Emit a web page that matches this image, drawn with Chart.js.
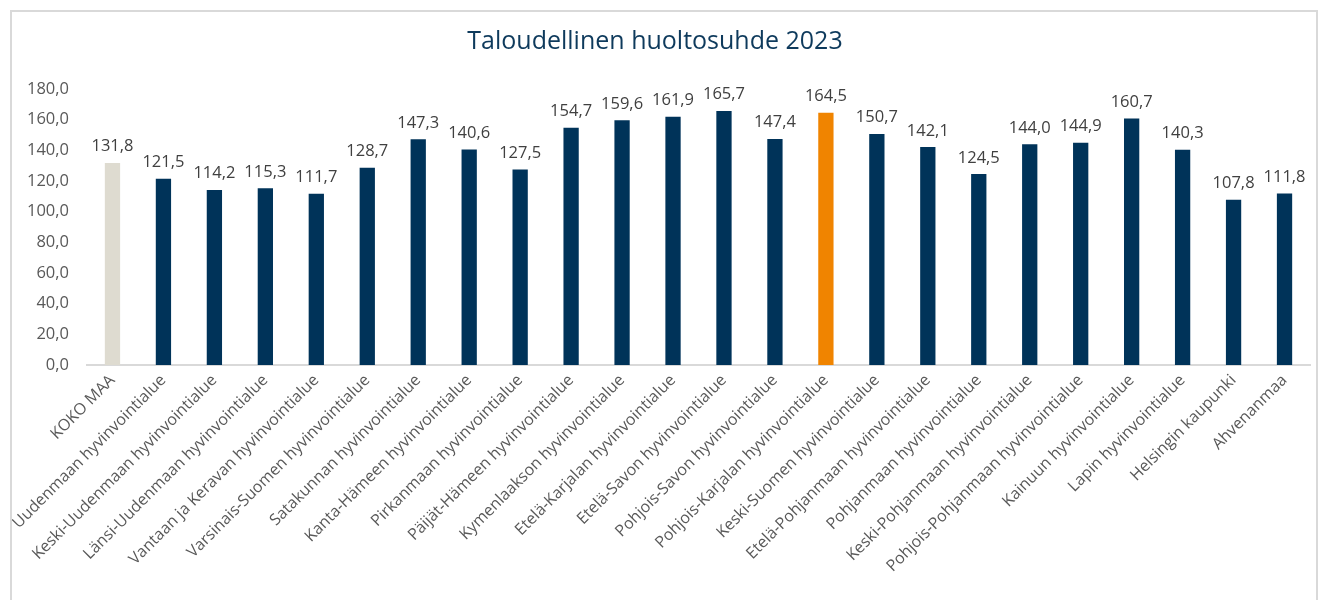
<!DOCTYPE html>
<html>
<head>
<meta charset="utf-8">
<script src="https://cdn.jsdelivr.net/npm/chart.js@4"></script>
<style>
  body { margin: 0; background: #fff; }
  #wrap { position: relative; width: 1324px; height: 600px; }
  #frame { position: absolute; left: 10px; top: 10px; width: 1304px; height: 600px; border: 2px solid #d9d9d9; pointer-events: none; }
</style>
</head>
<body>
<div id="wrap">
  <canvas id="myChart" width="1324" height="600"></canvas>
  <div id="frame"></div>
</div>
<script>
const categories = [
  "KOKO MAA",
  "Uudenmaan hyvinvointialue",
  "Keski-Uudenmaan hyvinvointialue",
  "Länsi-Uudenmaan hyvinvointialue",
  "Vantaan ja Keravan hyvinvointialue",
  "Varsinais-Suomen hyvinvointialue",
  "Satakunnan hyvinvointialue",
  "Kanta-Hämeen hyvinvointialue",
  "Pirkanmaan hyvinvointialue",
  "Päijät-Hämeen hyvinvointialue",
  "Kymenlaakson hyvinvointialue",
  "Etelä-Karjalan hyvinvointialue",
  "Etelä-Savon hyvinvointialue",
  "Pohjois-Savon hyvinvointialue",
  "Pohjois-Karjalan hyvinvointialue",
  "Keski-Suomen hyvinvointialue",
  "Etelä-Pohjanmaan hyvinvointialue",
  "Pohjanmaan hyvinvointialue",
  "Keski-Pohjanmaan hyvinvointialue",
  "Pohjois-Pohjanmaan hyvinvointialue",
  "Kainuun hyvinvointialue",
  "Lapin hyvinvointialue",
  "Helsingin kaupunki",
  "Ahvenanmaa"
];
const values = [131.8, 121.5, 114.2, 115.3, 111.7, 128.7, 147.3, 140.6, 127.5, 154.7, 159.6, 161.9,
                165.7, 147.4, 164.5, 150.7, 142.1, 124.5, 144.0, 144.9, 160.7, 140.3, 107.8, 111.8];
const yTicks = [0, 20, 40, 60, 80, 100, 120, 140, 160, 180];

const navy = "#003359";
const wholeCountry = "KOKO MAA";
const highlighted = "Pohjois-Karjalan hyvinvointialue";

const fmt = (v) => v.toFixed(1).replace(".", ",");

const barColors = categories.map((c) => {
  if (c === wholeCountry) return "#dedbd0";
  if (c === highlighted) return "#f08400";
  return navy;
});

// draws the value above every bar
const valueLabels = {
  id: "valueLabels",
  afterDatasetsDraw(chart) {
    const ctx = chart.ctx;
    const meta = chart.getDatasetMeta(0);
    ctx.save();
    ctx.font = '16.5px "Open Sans"';
    ctx.fillStyle = "#404040";
    ctx.textAlign = "center";
    ctx.textBaseline = "bottom";
    meta.data.forEach((bar, i) => {
      ctx.fillText(fmt(values[i]), bar.x, bar.y - 8);
    });
    ctx.restore();
  }
};

const ctx = document.getElementById("myChart");

new Chart(ctx, {
  type: "bar",
  data: {
    labels: categories,
    datasets: [
      {
        label: "Taloudellinen huoltosuhde 2023",
        data: values,
        backgroundColor: barColors,
        borderWidth: 0,
        barPercentage: 0.3,
        categoryPercentage: 1.0,
      },
    ],
  },
  options: {
    responsive: false,
    animation: false,
    layout: { padding: { left: 0, right: 14, top: 0, bottom: 0 } },
    plugins: {
      legend: { display: false },
      tooltip: { enabled: false },
      title: {
        display: true,
        text: "Taloudellinen huoltosuhde 2023",
        color: "#0e3a5c",
        font: { family: "Open Sans", size: 25, weight: "normal" },
        padding: { top: 27, bottom: 32 },
      },
    },
    scales: {
      x: {
        grid: { display: false, drawTicks: false },
        border: { display: true, color: "#d9d9d9", width: 2 },
        ticks: {
          color: "#595959",
          font: { family: "Open Sans", size: 16 },
          minRotation: 45,
          maxRotation: 45,
          autoSkip: false,
          padding: 6,
        },
        afterFit: (scale) => { scale.height = 235; },
      },
      y: {
        min: 0,
        max: 180,
        grid: { display: false, drawTicks: false },
        border: { display: false },
        afterBuildTicks: (scale) => { scale.ticks = yTicks.map((v) => ({ value: v })); },
        ticks: {
          color: "#595959",
          font: { family: "Open Sans", size: 16.5 },
          padding: 18,
          callback: (v) => fmt(v),
        },
        afterFit: (scale) => { scale.width = 87; },
      },
    },
  },
  plugins: [valueLabels],
});
</script>
</body>
</html>
